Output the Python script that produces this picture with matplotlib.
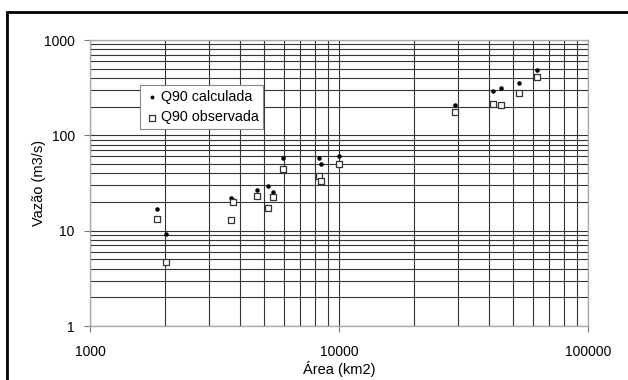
import matplotlib
matplotlib.use("Agg")
import matplotlib.pyplot as plt
from matplotlib.ticker import FixedLocator, FixedFormatter, LogLocator, NullFormatter
from matplotlib.patches import Rectangle

plt.rcParams['font.family'] = ['Liberation Sans', 'DejaVu Sans']

area_calc = [1858, 2018, 3673, 3750, 4690, 5178, 5420, 5940, 8340, 8455, 9970, 29300, 41400, 44560, 52800, 62200]
q90_calc = [16.9, 9.2, 21.8, 20.9, 26.5, 29.2, 25.4, 57.4, 58.2, 49.7, 60.6, 208, 292, 313, 354, 488]
area_obs = [1858, 2018, 3673, 3750, 4690, 5178, 5420, 5940, 8340, 8455, 9970, 29300, 41400, 44560, 52800, 62200]
q90_obs = [13.2, 4.7, 12.9, 19.8, 23.2, 17.3, 22.3, 44.0, 37.2, 33.5, 49.7, 177, 215, 208, 276, 406]

x_ticks = [1000, 10000, 100000]
x_ticklabels = ["1000", "10000", "100000"]
y_ticks = [1, 10, 100, 1000]
y_ticklabels = ["1", "10", "100", "1000"]

fig = plt.figure(figsize=(6.28, 3.8), dpi=100)
ax = fig.add_axes([90/628, 1-326/380, 498/628, 286/380])

ax.set_xscale('log')
ax.set_yscale('log')
ax.set_xlim(1000, 100000)
ax.set_ylim(1, 1000)

ax.scatter(area_calc, q90_calc, marker='o', s=5, color='black', zorder=3, label='Q90 calculada')
ax.scatter(area_obs, q90_obs, marker='s', s=22, facecolors='white', edgecolors='#333333', linewidths=0.9, zorder=3, label='Q90 observada')

ax.xaxis.set_major_locator(FixedLocator(x_ticks))
ax.xaxis.set_major_formatter(FixedFormatter(x_ticklabels))
ax.yaxis.set_major_locator(FixedLocator(y_ticks))
ax.yaxis.set_major_formatter(FixedFormatter(y_ticklabels))
ax.xaxis.set_minor_locator(LogLocator(base=10, subs=range(2, 10)))
ax.yaxis.set_minor_locator(LogLocator(base=10, subs=range(2, 10)))
ax.xaxis.set_minor_formatter(NullFormatter())
ax.yaxis.set_minor_formatter(NullFormatter())

ax.grid(True, which='both', color='#333333', linewidth=0.8)
ax.set_axisbelow(True)
ax.tick_params(which='major', direction='out', length=4, width=0.8, color='#777777', labelsize=10, pad=7)
ax.tick_params(axis='x', which='major', pad=10)
ax.tick_params(which='minor', length=0)

for s in ax.spines.values():
    s.set_color('#aaaaaa')
    s.set_linewidth(1.0)

ax.set_xlabel('Área (km2)', fontsize=10.5)
ax.set_ylabel('Vazão (m3/s)', fontsize=10.5)
ax.xaxis.set_label_coords(0.5, -0.122)
ax.yaxis.set_label_coords(-0.088, 0.5)

leg = ax.legend(loc='upper left', bbox_to_anchor=(0.100, 0.843), borderaxespad=0,
                fontsize=10.3, frameon=True, fancybox=False, handletextpad=0.1,
                handlelength=1.0, borderpad=0.35, labelspacing=0.45, markerscale=0.8)
leg.get_frame().set_edgecolor('#888888')
leg.get_frame().set_linewidth(0.8)
leg.get_frame().set_alpha(1)

fig.patches.append(Rectangle((7/628, -0.1), 1.2, 1.1 - 12/380, transform=fig.transFigure,
                             fill=False, edgecolor='black', linewidth=2))

fig.savefig('out.png', dpi=100)
